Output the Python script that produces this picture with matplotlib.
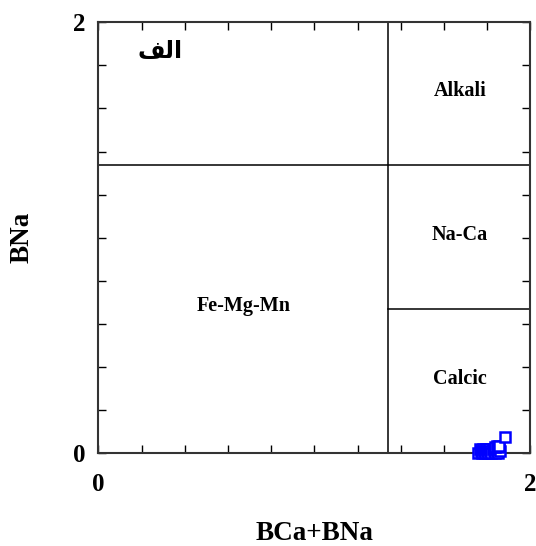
import matplotlib
matplotlib.use("Agg")
import matplotlib.pyplot as plt
from matplotlib.ticker import MultipleLocator, FuncFormatter

# Amphibole group classification (BCa+BNa vs BNa)
bca_bna = [1.76, 1.765, 1.77, 1.775, 1.78, 1.785, 1.79, 1.795, 1.80, 1.805,
           1.81, 1.815, 1.82, 1.825, 1.83, 1.835, 1.84, 1.845, 1.85, 1.855,
           1.86, 1.835, 1.845, 1.85, 1.855, 1.885]
b_na = [0.00, 0.02, 0.01, 0.00, 0.02, 0.01, 0.00, 0.02, 0.01, 0.00,
        0.02, 0.01, 0.00, 0.02, 0.01, 0.00, 0.02, 0.01, 0.00, 0.02,
        0.01, 0.03, 0.035, 0.03, 0.035, 0.075]

# Field boundaries
ca_na_limit = 1.34
na_alkali_limit = 1.34
na_calcic_limit = 0.67

# Field names and their label anchors (data units)
field_names = ["Alkali", "Na-Ca", "Calcic", "Fe-Mg-Mn"]
field_x = [1.677, 1.675, 1.675, 0.675]
field_y = [1.681, 1.013, 0.345, 0.684]

panel_tag = "\uFED2\uFEDF\uFE8D"  # "الف" in presentation forms
tick_labels = {0.0: "0", 2.0: "2"}

serif = ["Liberation Serif", "DejaVu Serif"]

fig = plt.figure(figsize=(5.36, 5.46), dpi=100)
ax = fig.add_axes([0.1834, 0.1698, 0.9894 - 0.1834, 0.9592 - 0.1698])

ax.set_xlim(0, 2)
ax.set_ylim(0, 2)

# Boundary lines
ax.axvline(ca_na_limit, color="black", lw=1.1)
ax.axhline(na_alkali_limit, color="black", lw=1.1)
ax.plot([ca_na_limit, 2], [na_calcic_limit, na_calcic_limit], color="black", lw=1.1)

# Samples
ax.plot(bca_bna, b_na, linestyle="none", marker="s", markersize=7.5,
        markerfacecolor="white", markeredgecolor="#0000ff", markeredgewidth=1.8,
        clip_on=False, zorder=5)

for name, fx, fy in zip(field_names, field_x, field_y):
    ax.text(fx, fy, name, ha="center", va="center", fontsize=14.5,
            fontweight="bold", family=serif)

ax.text(0.286, 1.867, panel_tag, ha="center", va="center", fontsize=17,
        fontweight="bold", family=["DejaVu Sans"])

# Ticks every 0.2, labelled only at the ends
for axis in (ax.xaxis, ax.yaxis):
    axis.set_major_locator(MultipleLocator(0.2))
    axis.set_major_formatter(FuncFormatter(
        lambda v, p: tick_labels.get(round(v, 3), "")))

ax.tick_params(direction="in", length=5.5, width=1.0, top=True, right=True,
               colors="black")
ax.tick_params(axis="x", pad=14)
ax.tick_params(axis="y", pad=9)
for lab in ax.get_xticklabels() + ax.get_yticklabels():
    lab.set_fontsize(18)
    lab.set_fontweight("bold")
    lab.set_family(serif)

for sp in ax.spines.values():
    sp.set_linewidth(1.5)
    sp.set_color("#333333")

ax.set_xlabel("BCa+BNa", fontsize=19.5, fontweight="bold", family=serif,
              va="center")
ax.set_ylabel("BNa", fontsize=19.5, fontweight="bold", family=serif,
              va="center")
ax.xaxis.set_label_coords(0.5, -0.185)
ax.yaxis.set_label_coords(-0.177, 0.5)

fig.savefig("out.png", dpi=100)
